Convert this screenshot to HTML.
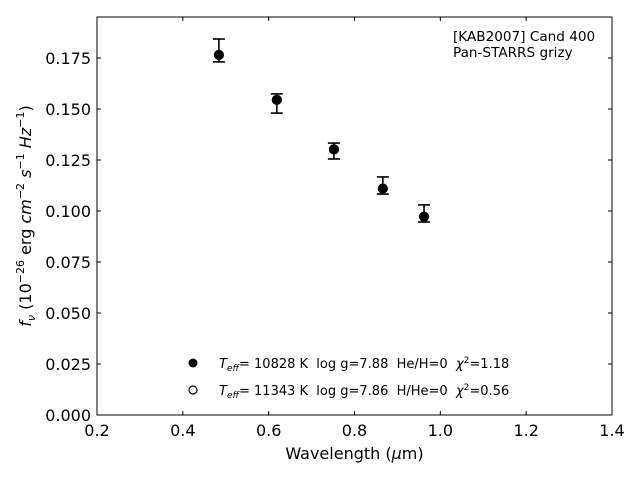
<!DOCTYPE html>
<html><head><meta charset="utf-8"><style>
html,body{margin:0;padding:0;background:#fff;}
text{font-family:"DejaVu Sans","Liberation Sans",sans-serif;fill:#000;white-space:pre;}
</style></head><body>
<svg id="chart" width="640" height="480" viewBox="0 0 640 480" xmlns="http://www.w3.org/2000/svg" xml:space="preserve">
<rect x="0" y="0" width="640" height="480" fill="#fff"/>
<g id="marks"></g>
<rect x="97" y="17" width="515" height="398" fill="none" stroke="#000" stroke-width="1"/>
<g id="axes"></g>
<text x="354.5" y="459" font-size="16" text-anchor="middle">Wavelength (<tspan font-style="italic">μ</tspan>m)</text>
<text transform="translate(31,216) rotate(-90)" font-size="16" text-anchor="middle"><tspan font-style="italic">f</tspan><tspan font-style="italic" font-size="11" dy="4">ν</tspan><tspan dy="-4"> (10</tspan><tspan font-size="11" dy="-7">−26</tspan><tspan dy="7"> erg </tspan><tspan font-style="italic">cm</tspan><tspan font-size="11" dy="-7">−2</tspan><tspan dy="7"> </tspan><tspan font-style="italic">s</tspan><tspan font-size="11" dy="-7">−1</tspan><tspan dy="7"> </tspan><tspan font-style="italic">Hz</tspan><tspan font-size="11" dy="-7">−1</tspan><tspan dy="7">)</tspan></text>
<text x="453" y="41" font-size="13.6">[KAB2007] Cand 400</text>
<text x="453" y="57" font-size="13.6">Pan-STARRS grizy</text>
<g>
<circle cx="193" cy="363" r="4.5" fill="#000"/>
<text x="219" y="368" font-size="13"><tspan font-style="italic">T</tspan><tspan font-style="italic" font-size="9" dy="3">eff</tspan><tspan dy="-3">= 10828 K  log g=7.88  He/H=0  </tspan><tspan font-style="italic">χ</tspan><tspan font-size="9" dy="-5">2</tspan><tspan dy="5">=1.18</tspan></text>
<circle cx="193" cy="390" r="4" fill="#fff" stroke="#000" stroke-width="1.2"/>
<text x="219" y="395" font-size="13"><tspan font-style="italic">T</tspan><tspan font-style="italic" font-size="9" dy="3">eff</tspan><tspan dy="-3">= 11343 K  log g=7.86  H/He=0  </tspan><tspan font-style="italic">χ</tspan><tspan font-size="9" dy="-5">2</tspan><tspan dy="5">=0.56</tspan></text>
</g>
</svg>
<script>
const wavelengths = [0.484, 0.619, 0.752, 0.866, 0.962];
const observedFlux = [0.1787, 0.1527, 0.1294, 0.1125, 0.0988];
const fluxErrors = [0.0056, 0.0047, 0.0039, 0.0042, 0.0042];
const modelHeFlux = [0.1765, 0.1545, 0.1302, 0.1110, 0.0972];
const modelHFlux = [0.1765, 0.1545, 0.1302, 0.1110, 0.0972];
const xTicks = [0.2, 0.4, 0.6, 0.8, 1.0, 1.2, 1.4];
const xTickLabels = ["0.2", "0.4", "0.6", "0.8", "1.0", "1.2", "1.4"];
const yTicks = [0, 0.025, 0.05, 0.075, 0.1, 0.125, 0.15, 0.175];
const yTickLabels = ["0.000", "0.025", "0.050", "0.075", "0.100", "0.125", "0.150", "0.175"];

const NS = "http://www.w3.org/2000/svg";
const X0 = 97, X1 = 612, Y0 = 415, Y1 = 17;
function xs(v){ return X0 + (v - 0.2) / 1.2 * (X1 - X0); }
function ys(v){ return Y0 - v * 2040; }
function mk(tag, attrs, parent){
  const e = document.createElementNS(NS, tag);
  for (const k in attrs) e.setAttribute(k, attrs[k]);
  parent.appendChild(e); return e;
}
const axes = document.getElementById("axes");
const marks = document.getElementById("marks");
xTicks.forEach((t, i) => {
  const x = xs(t);
  const a = mk("line", {x1:x, x2:x, y1:Y0, y2:Y0-4, stroke:"#000"}, axes);
  
  
  const b = mk("line", {x1:x, x2:x, y1:Y1, y2:Y1+4, stroke:"#000"}, axes);
  
  
  const tx = mk("text", {x:x, y:Y0+21, "font-size":16, "text-anchor":"middle"}, axes);
  tx.textContent = xTickLabels[i];
  
  
});
yTicks.forEach((t, i) => {
  const y = ys(t);
  const a = mk("line", {x1:X0, x2:X0+4, y1:y, y2:y, stroke:"#000"}, axes);
  
  
  const b = mk("line", {x1:X1, x2:X1-4, y1:y, y2:y, stroke:"#000"}, axes);
  
  
  const tx = mk("text", {x:X0-6, y:y+6, "font-size":16, "text-anchor":"end"}, axes);
  tx.textContent = yTickLabels[i];
  
  
});
wavelengths.forEach((w, i) => {
  const x = xs(w);
  const top = ys(observedFlux[i] + fluxErrors[i]);
  const bot = ys(observedFlux[i] - fluxErrors[i]);
  const g = mk("g", {}, marks);
  
  
  mk("line", {x1:x, x2:x, y1:top, y2:bot, stroke:"#000", "stroke-width":1.6}, g);
  mk("line", {x1:x-6, x2:x+6, y1:top, y2:top, stroke:"#000", "stroke-width":1.6}, g);
  mk("line", {x1:x-6, x2:x+6, y1:bot, y2:bot, stroke:"#000", "stroke-width":1.6}, g);
  const o = mk("circle", {cx:x, cy:ys(modelHFlux[i]), r:4.5, fill:"#fff", stroke:"#000", "stroke-width":1.2}, marks);
  
  
  const f = mk("circle", {cx:x, cy:ys(modelHeFlux[i]), r:5, fill:"#000"}, marks);
  
  
});
</script>
</body></html>
